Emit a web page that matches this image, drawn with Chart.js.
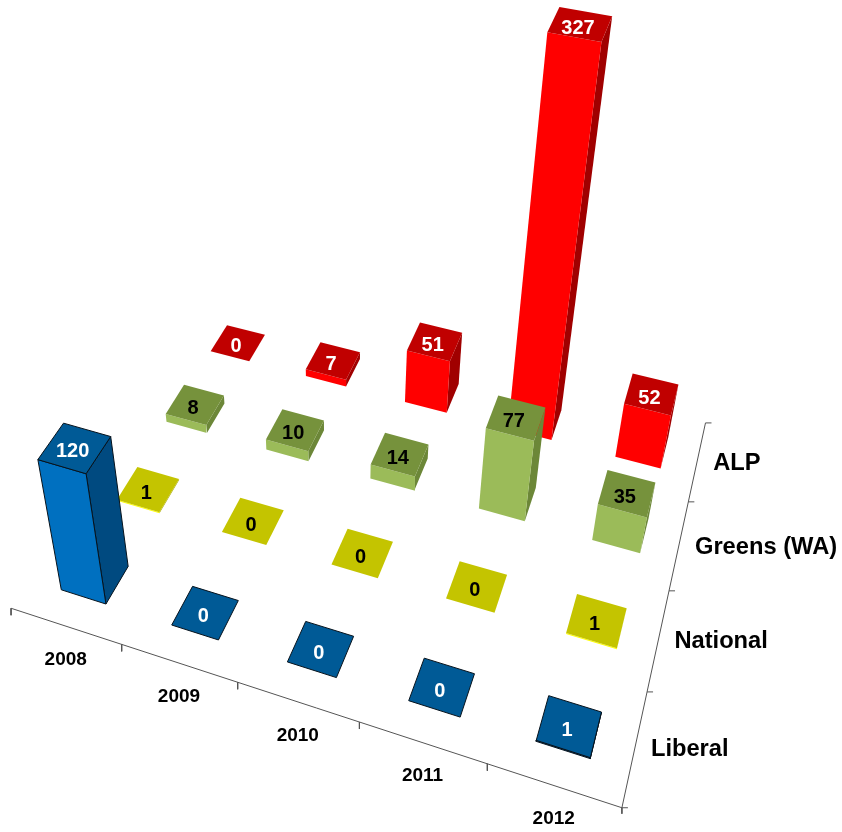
<!DOCTYPE html>
<html><head><meta charset="utf-8">
<style>html,body{margin:0;padding:0;background:#fff}canvas{display:block}</style>
<script src="https://cdn.jsdelivr.net/npm/chart.js@4/dist/chart.umd.min.js"></script>
</head><body><canvas id="c" width="842" height="832"></canvas>
<script>
const years = ['2008','2009','2010','2011','2012'];
const parties = ['Liberal','National','Greens (WA)','ALP'];
const liberal = [120,0,0,0,1];
const national = [1,0,0,0,1];
const greens = [8,10,14,77,35];
const alp = [0,7,51,327,52];
const seriesValues = [liberal,national,greens,alp];

const palette = [
 {top:'#005a96',front:'#0070c0',side:'#004a80',border:'#06121c',text:'#ffffff'},
 {top:'#c4c400',front:'#ffff00',side:'#a8a800',border:null,text:'#000000'},
 {top:'#76923c',front:'#9bbb59',side:'#6c8738',border:null,text:'#000000'},
 {top:'#c00000',front:'#ff0000',side:'#a00000',border:null,text:'#ffffff'}
];

// Perspective camera: category grid (u = year, v = party) and value z to plot units
function project(u,v,z){
  const s=(u-0.5)/4, t=(v-0.5)/3, q=-0.000643*(z||0);
  const w=-0.0903*s+0.1896*t+1+q;
  return {x:(422.6*s+188.1*t+95+339*q)/w, y:(83.4*s-170*t+578+2133*q)/w};
}
const halfU=0.205, halfV=0.20;
const datasets=[];
function addShape(pts,color,border){
  datasets.push({data:pts.concat([pts[0]]),showLine:true,fill:'shape',backgroundColor:color,
    borderColor:border||color,borderWidth:border?1:0,pointRadius:0,tension:0});
}
function addLine(pts,color){
  datasets.push({data:pts,showLine:true,fill:false,borderColor:color,borderWidth:1,pointRadius:0,tension:0});
}
// axes
const axisColor='#555555';
addLine([project(0,0),project(years.length,0),project(years.length,parties.length)],axisColor);
years.forEach((_,i)=>{const p=project(i,0);addLine([p,{x:p.x,y:p.y+7}],axisColor);});
{const p=project(years.length,0);addLine([p,{x:p.x,y:p.y+6}],axisColor);}
for(let j=0;j<=parties.length;j++){const p=project(years.length,j);addLine([p,{x:p.x+6,y:p.y}],axisColor);}
// bars, far row first
for(let j=parties.length-1;j>=0;j--){
  const vals=seriesValues[j],c=palette[j];
  vals.forEach((val,i)=>{
    const u0=i+0.5-halfU,u1=i+0.5+halfU,v0=j+0.5-halfV,v1=j+0.5+halfV;
    if(val>0){
      addShape([project(u1,v0,0),project(u1,v1,0),project(u1,v1,val),project(u1,v0,val)],c.side,c.border);
      addShape([project(u0,v0,0),project(u1,v0,0),project(u1,v0,val),project(u0,v0,val)],c.front,c.border);
    }
    addShape([project(u0,v0,val),project(u1,v0,val),project(u1,v1,val),project(u0,v1,val)],c.top,c.border);
  });
}
datasets.forEach((d,i)=>{d.order=datasets.length-i;});

const textPlugin={id:'textPlugin',afterDatasetsDraw(chart){
  const {ctx,scales:{x,y}}=chart;
  const put=(txt,p,dx,dy,align,font,color)=>{
    ctx.font=font;ctx.fillStyle=color;ctx.textAlign=align;ctx.textBaseline='middle';
    ctx.fillText(txt,x.getPixelForValue(p.x)+dx,y.getPixelForValue(p.y)+dy);
  };
  ctx.save();
  seriesValues.forEach((vals,j)=>vals.forEach((val,i)=>{
    put(String(val),project(i+0.5,j+0.5,val),-2,4,'center','bold 20px "Liberation Sans"',palette[j].text);
  }));
  years.forEach((t,i)=>put(t,project(i+0.5,0),0,33.5,'center','bold 19px "Liberation Sans"','#000000'));
  parties.forEach((t,j)=>put(t,project(years.length,j+0.5),16,2,'left','bold 23.7px "Liberation Sans"','#000000'));
  ctx.restore();
}};

new Chart(document.getElementById('c'),{
  type:'scatter',
  data:{datasets},
  plugins:[textPlugin],
  options:{
    responsive:false,animation:false,devicePixelRatio:1,
    layout:{padding:0},
    plugins:{legend:{display:false},tooltip:{enabled:false},title:{display:false}},
    events:[],
    scales:{
      x:{type:'linear',min:0,max:842,display:false},
      y:{type:'linear',min:0,max:832,reverse:true,display:false}
    }
  }
});
</script></body></html>
